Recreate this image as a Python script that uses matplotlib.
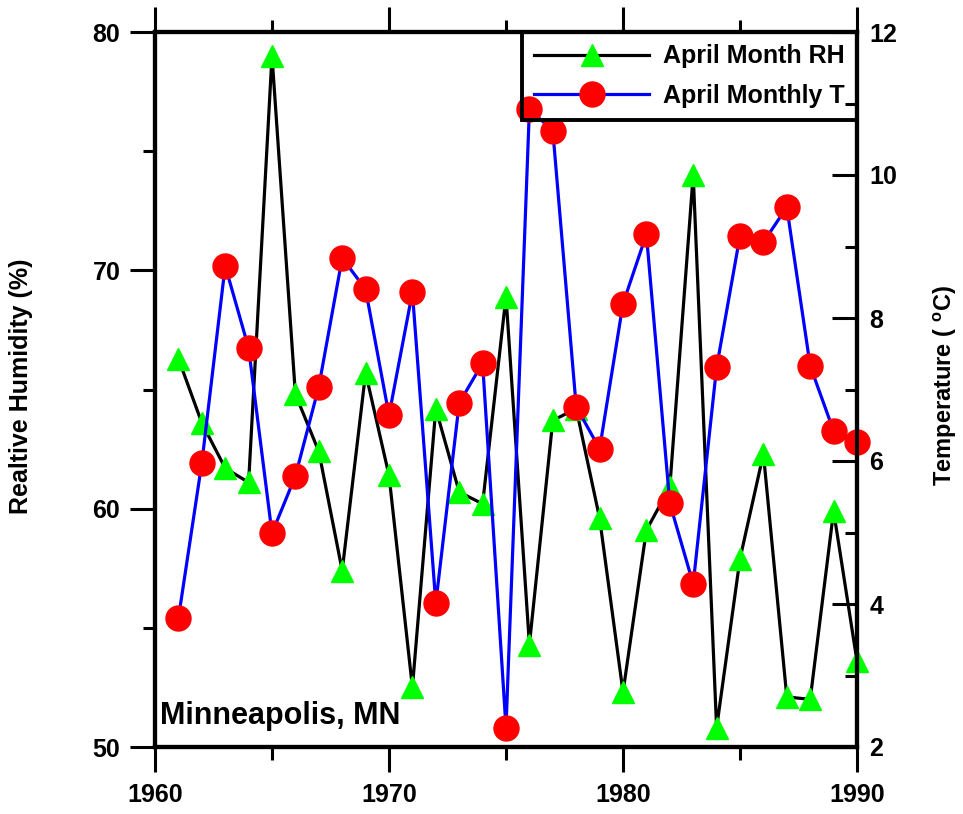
import matplotlib
matplotlib.use("Agg")
import matplotlib.pyplot as plt
from matplotlib.ticker import MultipleLocator

plt.rcParams['font.family'] = ['Liberation Sans', 'DejaVu Sans']
plt.rcParams['font.weight'] = 'bold'
plt.rcParams['mathtext.default'] = 'regular'

# data
years = list(range(1961, 1991))
rh = [66.3, 63.6, 61.7, 61.1, 79.0, 64.8, 62.4, 57.4, 65.7, 61.4,
      52.5, 64.2, 60.7, 60.2, 68.9, 54.3, 63.7, 64.2, 59.6, 52.3,
      59.1, 60.9, 74.0, 50.8, 57.9, 62.3, 52.1, 52.0, 59.9, 53.6]
temp = [3.80, 5.97, 8.73, 7.58, 4.99, 5.79, 7.04, 8.84, 8.40, 6.64,
        8.36, 4.01, 6.81, 7.37, 2.27, 10.92, 10.62, 6.76, 6.17, 8.20,
        9.17, 5.41, 4.28, 7.31, 9.15, 9.06, 9.55, 7.33, 6.42, 6.27]

rh_label = 'April Month RH'
t_label = 'April Monthly T'

fig = plt.figure(figsize=(9.63, 8.14), dpi=100)
ax = fig.add_axes([155 / 963, 1 - 747 / 814, 702 / 963, 715 / 814])
ax2 = ax.twinx()

ax.plot(years, rh, color='black', lw=2.3, marker='^', ms=16,
        mfc='#00ff00', mec='#00ff00', clip_on=False, label=rh_label)
ax2.plot(years, temp, color='blue', lw=2.3, marker='o', ms=18,
         mfc='red', mec='red', clip_on=False, label=t_label)

ax.set_xlim(1960, 1990)
ax.set_ylim(50, 80)
ax2.set_ylim(2, 12)

ax.xaxis.set_major_locator(MultipleLocator(10))
ax.xaxis.set_minor_locator(MultipleLocator(5))
ax.yaxis.set_major_locator(MultipleLocator(10))
ax.yaxis.set_minor_locator(MultipleLocator(5))
ax2.yaxis.set_major_locator(MultipleLocator(2))
ax2.yaxis.set_minor_locator(MultipleLocator(1))

ax.tick_params(axis='x', which='both', direction='out', top=True, bottom=True, pad=8)
ax.tick_params(axis='y', which='both', direction='out', left=True, right=False, pad=7)
ax2.tick_params(axis='y', which='both', direction='in', right=True, pad=9)
for a in (ax, ax2):
    a.tick_params(which='major', length=18, width=2.2, labelsize=18)
    a.tick_params(which='minor', length=9, width=2.2)
    for s in a.spines.values():
        s.set_linewidth(3)

ax.set_ylabel('Realtive Humidity (%)', fontsize=18, fontweight='bold')
ax.yaxis.set_label_coords(-0.174, 0.505)
ax2.set_ylabel('Temperature ( $^o$C)', fontsize=17, fontweight='bold')
ax2.yaxis.set_label_coords(1.107, 0.505)

ax.text(0.007, 0.032, 'Minneapolis, MN', transform=ax.transAxes,
        fontsize=22, fontweight='bold', va='baseline', ha='left')

h1, l1 = ax.get_legend_handles_labels()
h2, l2 = ax2.get_legend_handles_labels()
leg = ax2.legend(h1 + h2, l1 + l2, loc='upper right', borderaxespad=0,
                 fontsize=18, handlelength=4.6, handletextpad=0.55,
                 borderpad=0.5, labelspacing=0.6, fancybox=False,
                 edgecolor='black', facecolor='none', framealpha=1)
leg.get_frame().set_linewidth(2.8)

fig.savefig('out.png', dpi=100)
